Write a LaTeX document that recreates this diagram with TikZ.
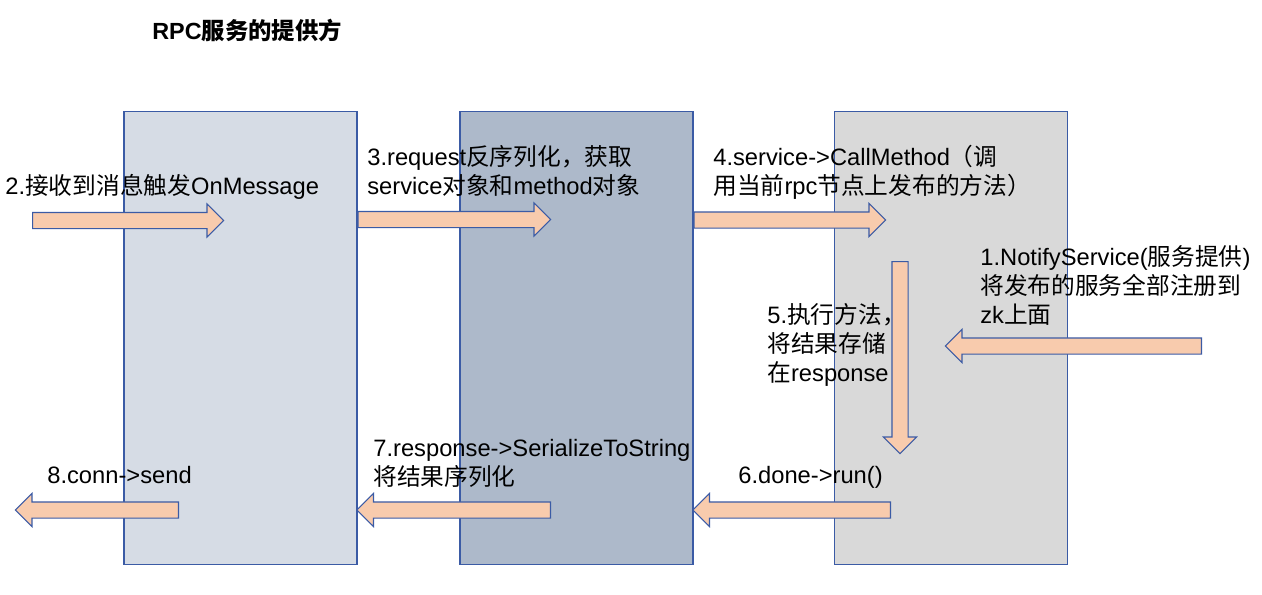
\documentclass[tikz,border=0pt]{standalone}
\usepackage{fontspec}
\setmainfont{Liberation Sans}
\newfontfamily\cjk{Noto Sans CJK SC}
\usetikzlibrary{shapes.arrows,calc}
\definecolor{recvfill}{HTML}{D6DCE5}
\definecolor{codecfill}{HTML}{ADB9CA}
\definecolor{callfill}{HTML}{D9D9D9}
\definecolor{edgeblue}{HTML}{3B5BA5}
\definecolor{flowfill}{HTML}{F8CBAD}
\newcommand{\flow}[2]{\path let \p1=($(#2)-(#1)$) in node[flowarrow, minimum height={veclen(\x1,\y1)}, rotate={atan2(\y1,\x1)}, anchor=tail] at (#1) {};}
\begin{document}
\begin{tikzpicture}[x=0.02cm,y=-0.02cm]
\tikzstyle{every node}+=[inner sep=0pt]
\tikzstyle{colbox}=[draw=edgeblue, line width=0.6pt, minimum width=4.66cm, minimum height=9.08cm]
\tikzstyle{flowarrow}=[single arrow, draw=edgeblue, fill=flowfill, line width=0.6pt, inner xsep=0pt, inner ysep=0.15cm, minimum width=0.64cm, single arrow head extend=0.17cm, single arrow head indent=0pt, single arrow tip angle=90]
\tikzstyle{lbl}=[anchor=base west, align=left, font=\fontsize{13.5pt}{16.45pt}\selectfont]
\useasboundingbox (0,0) rectangle (1262,595);
\node[colbox, fill=recvfill] (recv) at (240.5,338) {};
\node[colbox, fill=codecfill] (codec) at (576.5,338) {};
\node[colbox, fill=callfill] (call) at (951,338) {};
\coordinate (in2) at (32,220.5);
\coordinate (in2t) at (223,220.5);
\coordinate (in3) at (recv.east |- 0,219.5);
\coordinate (in3t) at (550,219.5);
\coordinate (in4) at (codec.east |- 0,220);
\coordinate (in4t) at (885,220);
\coordinate (reg1) at (1202,346);
\coordinate (reg1t) at (946,346);
\coordinate (run5) at (900,261);
\coordinate (run5t) at (900,453);
\coordinate (out6) at (891,510);
\coordinate (out6t) at (codec.east |- 0,510);
\coordinate (out7) at (551,510);
\coordinate (out7t) at (recv.east |- 0,510);
\coordinate (out8) at (179,510);
\coordinate (out8t) at (16,510);
\flow{in2}{in2t}
\flow{in3}{in3t}
\flow{in4}{in4t}
\flow{reg1}{reg1t}
\flow{run5}{run5t}
\flow{out6}{out6t}
\flow{out7}{out7t}
\flow{out8}{out8t}
\node[anchor=base west, font=\fontsize{13.3pt}{16pt}\selectfont\bfseries] (title) at (152,39) {RPC{\cjk 服务的提供方}};
\node[lbl] (t2) at (5,194) {2.{\cjk 接收到消息触发}OnMessage};
\node[lbl] (t3) at (367,194) {3.request{\cjk 反序列化，获取}\\service{\cjk 对象和}method{\cjk 对象}};
\node[lbl] (t4) at (713,194) {4.service->CallMethod{\cjk （调}\\{\cjk 用当前}rpc{\cjk 节点上发布的方法）}};
\node[lbl] (t1) at (980,323) {1.NotifyService({\cjk 服务提供})\\{\cjk 将发布的服务全部注册到}\\zk{\cjk 上面}};
\node[lbl] (t5) at (767,381) {5.{\cjk 执行方法，}\\{\cjk 将结果存储}\\{\cjk 在}response};
\node[lbl] (t6) at (738,483) {6.done->run()};
\node[lbl] (t7) at (373,485) {7.response->SerializeToString\\{\cjk 将结果序列化}};
\node[lbl] (t8) at (47,483) {8.conn->send};
\end{tikzpicture}
\end{document}
